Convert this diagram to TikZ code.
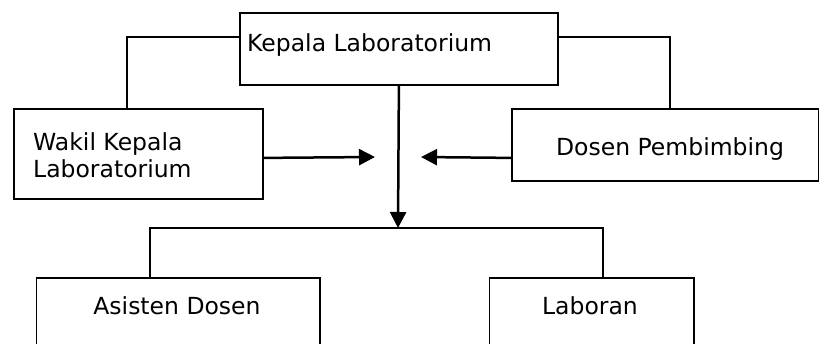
\documentclass[tikz,border=0pt]{standalone}
\usepackage{fontspec}
\setmainfont{DejaVu Sans}
\usetikzlibrary{arrows.meta,calc}
\begin{document}
\begin{tikzpicture}[x=1pt,y=1pt,
  box/.style={draw,line width=1.8pt,inner sep=0pt,anchor=north west},
  lbl/.style={font=\fontsize{23.5}{27}\selectfont,inner sep=0pt},
  conn/.style={line width=1.8pt},
  arr/.style={line width=2.5pt,-{Triangle[length=16pt,width=16pt]}}]
\clip (0,0) rectangle (819,-343);
\useasboundingbox (0,0) rectangle (819,-343);
\fill[white] (0,0) rectangle (819,-343);
% boxes
\node[box,minimum width=318pt,minimum height=72pt] (kepala) at (239,-12) {};
\node[box,minimum width=249pt,minimum height=90pt] (wakil) at (13,-108) {};
\node[box,minimum width=307pt,minimum height=72pt] (dosen) at (511,-108) {};
\node[box,minimum width=283.5pt,minimum height=80pt] (asisten) at (35.5,-277) {};
\node[box,minimum width=204.5pt,minimum height=80pt] (laboran) at (488.5,-277) {};
% texts
\node[lbl,anchor=base west] (tkepala) at (247,-51) {Kepala Laboratorium};
\node[lbl,anchor=base west,align=left] (twakil) at (33,-177) {Wakil Kepala\\Laboratorium};
\node[lbl,anchor=base] (tdosen) at (670,-155) {Dosen Pembimbing};
\node[lbl,anchor=base] (tasisten) at (177,-314) {Asisten Dosen};
\node[lbl,anchor=base] (tlaboran) at (590,-314) {Laboran};
% coordinates
\coordinate (bus) at (398,-228);
\coordinate (wend) at (375,-157);
\coordinate (dend) at (421,-157);
% connectors
\draw[conn] ([yshift=12pt]kepala.west) -| ([xshift=-11.5pt]wakil.north);
\draw[conn] ([yshift=12pt]kepala.east) -| ([xshift=4.5pt]dosen.north);
\draw[arr] (kepala.south) -- (bus);
\draw[arr] ([yshift=-4pt]wakil.east) -- (wend);
\draw[arr] ([yshift=-13pt]dosen.west) -- (dend);
\draw[conn] ([xshift=-28pt]asisten.north) |- (bus) -| ([xshift=11.25pt]laboran.north);
\end{tikzpicture}
\end{document}
